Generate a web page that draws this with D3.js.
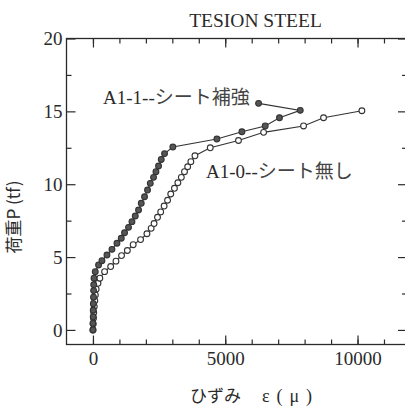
<!DOCTYPE html>
<html>
<head>
<meta charset="utf-8">
<script src="https://cdn.jsdelivr.net/npm/d3@7"></script>
<style>
  body { margin: 0; background: #fff; }
  svg text { fill: #2a2a2a; }
</style>
</head>
<body>
<svg id="chart" width="405" height="406"></svg>
<script>
// A1-1 シート補強 (filled markers)
var a11Strain = [0, 0, 10, 10, 15, 20, 25, 30, 40, 87, 212, 340, 529, 718, 907, 1070, 1194, 1345, 1474, 1599, 1723, 1825, 1950, 2063, 2166, 2290, 2381, 2479, 2581, 2706, 3020, 4685, 5630, 6510, 7050, 7835, 6260];
var a11Load   = [0, 0.45, 0.9, 1.35, 1.8, 2.25, 2.7, 3.1, 3.55, 4.0, 4.46, 4.75, 5.14, 5.53, 5.95, 6.29, 6.67, 7.04, 7.43, 7.82, 8.23, 8.69, 9.14, 9.6, 10.06, 10.47, 10.86, 11.25, 11.7, 12.1, 12.55, 13.1, 13.6, 14.0, 14.56, 15.07, 15.55];

// A1-0 シート無し (open markers)
var a10Strain = [0, 10, 20, 30, 50, 70, 90, 120, 190, 260, 440, 670, 870, 1080, 1300, 1520, 1800, 2040, 2200, 2310, 2440, 2560, 2690, 2820, 2940, 3080, 3210, 3340, 3460, 3580, 3700, 3855, 4433, 5500, 6450, 7960, 8716, 10165];
var a10Load   = [0, 0.4, 0.8, 1.2, 1.6, 2.0, 2.4, 2.8, 3.2, 3.55, 4.0, 4.35, 4.72, 5.1, 5.45, 5.85, 6.2, 6.6, 6.97, 7.3, 7.73, 8.1, 8.5, 8.9, 9.33, 9.72, 10.1, 10.47, 10.86, 11.2, 11.55, 11.95, 12.5, 13.0, 13.56, 14.0, 14.56, 15.04];

var xMajor = [0, 5000, 10000];
var xMinor = [0, 1000, 2000, 3000, 4000, 5000, 6000, 7000, 8000, 9000, 10000, 11000];
var yMajor = [0, 5, 10, 15, 20];
var yMinor = [2.5, 7.5, 12.5, 17.5];

var svg = d3.select("#chart");
var plotL = 66.5, plotR = 407, plotT = 38.5, plotB = 344.5;

var x = d3.scaleLinear().domain([-1000, 11870]).range([plotL, plotR]);
var y = d3.scaleLinear().domain([-1, 20]).range([plotB, plotT]);

var ink = "#2a2a2a";
var serif = "'Liberation Serif', 'DejaVu Serif', serif";
var cjk = "'Noto Sans CJK JP', 'Noto Sans CJK SC', sans-serif";

// frame
svg.append("rect")
    .attr("x", plotL).attr("y", plotT)
    .attr("width", plotR - plotL).attr("height", plotB - plotT)
    .style("fill", "none").style("stroke", ink).style("stroke-width", 1.3);

function styleAxis(g){
    g.select(".domain").remove();
    g.selectAll("line").style("stroke", ink).style("stroke-width", 1.2);
    g.selectAll("text").style("font-family", serif).style("font-size", "19px").style("fill", "#2a2a2a");
}

// bottom
svg.append("g").attr("transform", "translate(0," + plotB + ")")
    .call(d3.axisBottom(x).tickValues(xMinor).tickSize(-5).tickFormat(""))
    .call(styleAxis);
svg.append("g").attr("transform", "translate(0," + plotB + ")")
    .call(d3.axisBottom(x).tickValues(xMajor).tickSize(-9).tickPadding(7).tickFormat(d3.format("d")))
    .call(styleAxis);
// top
svg.append("g").attr("transform", "translate(0," + plotT + ")")
    .call(d3.axisTop(x).tickValues(xMinor).tickSize(-5).tickFormat(""))
    .call(styleAxis);
svg.append("g").attr("transform", "translate(0," + plotT + ")")
    .call(d3.axisTop(x).tickValues(xMajor).tickSize(-9).tickFormat(""))
    .call(styleAxis);
// left
svg.append("g").attr("transform", "translate(" + plotL + ",0)")
    .call(d3.axisLeft(y).tickValues(yMinor).tickSize(-5).tickFormat(""))
    .call(styleAxis);
svg.append("g").attr("transform", "translate(" + plotL + ",0)")
    .call(d3.axisLeft(y).tickValues(yMajor).tickSize(-9).tickPadding(4).tickFormat(d3.format("d")))
    .call(styleAxis);
// right
svg.append("g").attr("transform", "translate(" + plotR + ",0)")
    .call(d3.axisRight(y).tickValues(yMinor).tickSize(-5).tickFormat(""))
    .call(styleAxis);
svg.append("g").attr("transform", "translate(" + plotR + ",0)")
    .call(d3.axisRight(y).tickValues(yMajor).tickSize(-9).tickFormat(""))
    .call(styleAxis);

// series
var line = d3.line()
    .x(function(d){ return x(d[0]); })
    .y(function(d){ return y(d[1]); });

function drawSeries(xs, ys, fill){
    var pts = xs.map(function(v, i){ return [v, ys[i]]; });
    svg.append("path")
        .datum(pts)
        .attr("d", line)
        .style("fill", "none")
        .style("stroke", "#333")
        .style("stroke-width", 1.1);
    svg.append("g").selectAll("circle")
        .data(pts)
        .enter().append("circle")
        .attr("cx", function(d){ return x(d[0]); })
        .attr("cy", function(d){ return y(d[1]); })
        .attr("r", 2.9)
        .style("fill", fill)
        .style("stroke", "#333")
        .style("stroke-width", 1.1);
}
drawSeries(a10Strain, a10Load, "#fff");
drawSeries(a11Strain, a11Load, "#555");

// title
svg.append("text")
    .attr("x", 255.5).attr("y", 27)
    .attr("text-anchor", "middle")
    .style("font-family", serif).style("font-size", "19.5px")
    .text("TESION STEEL");

// annotations
function label(xp, yp, latin, kana){
    var t = svg.append("text").attr("x", xp).attr("y", yp);
    t.append("tspan").style("font-family", serif).style("font-size", "19px").text(latin);
    t.append("tspan").style("font-family", cjk).style("font-size", "19px").attr("fill", "#444").text(kana);
}
label(103, 104, "A1-1--", "シート補強");
label(206, 178, "A1-0--", "シート無し");

// axis titles
svg.append("text")
    .attr("transform", "translate(20,217) rotate(-90)")
    .attr("text-anchor", "middle")
    .style("font-family", cjk).style("font-size", "17px")
    .text("荷重P (tf)");

svg.append("text")
    .attr("x", 190).attr("y", 402)
    .style("font-family", cjk).style("font-size", "17px")
    .text("ひずみ");
svg.append("text")
    .attr("x", 262).attr("y", 402)
    .attr("textLength", 50).attr("lengthAdjust", "spacing")
    .style("font-family", serif).style("font-size", "18px")
    .text("ε(μ)");
</script>
</body>
</html>
